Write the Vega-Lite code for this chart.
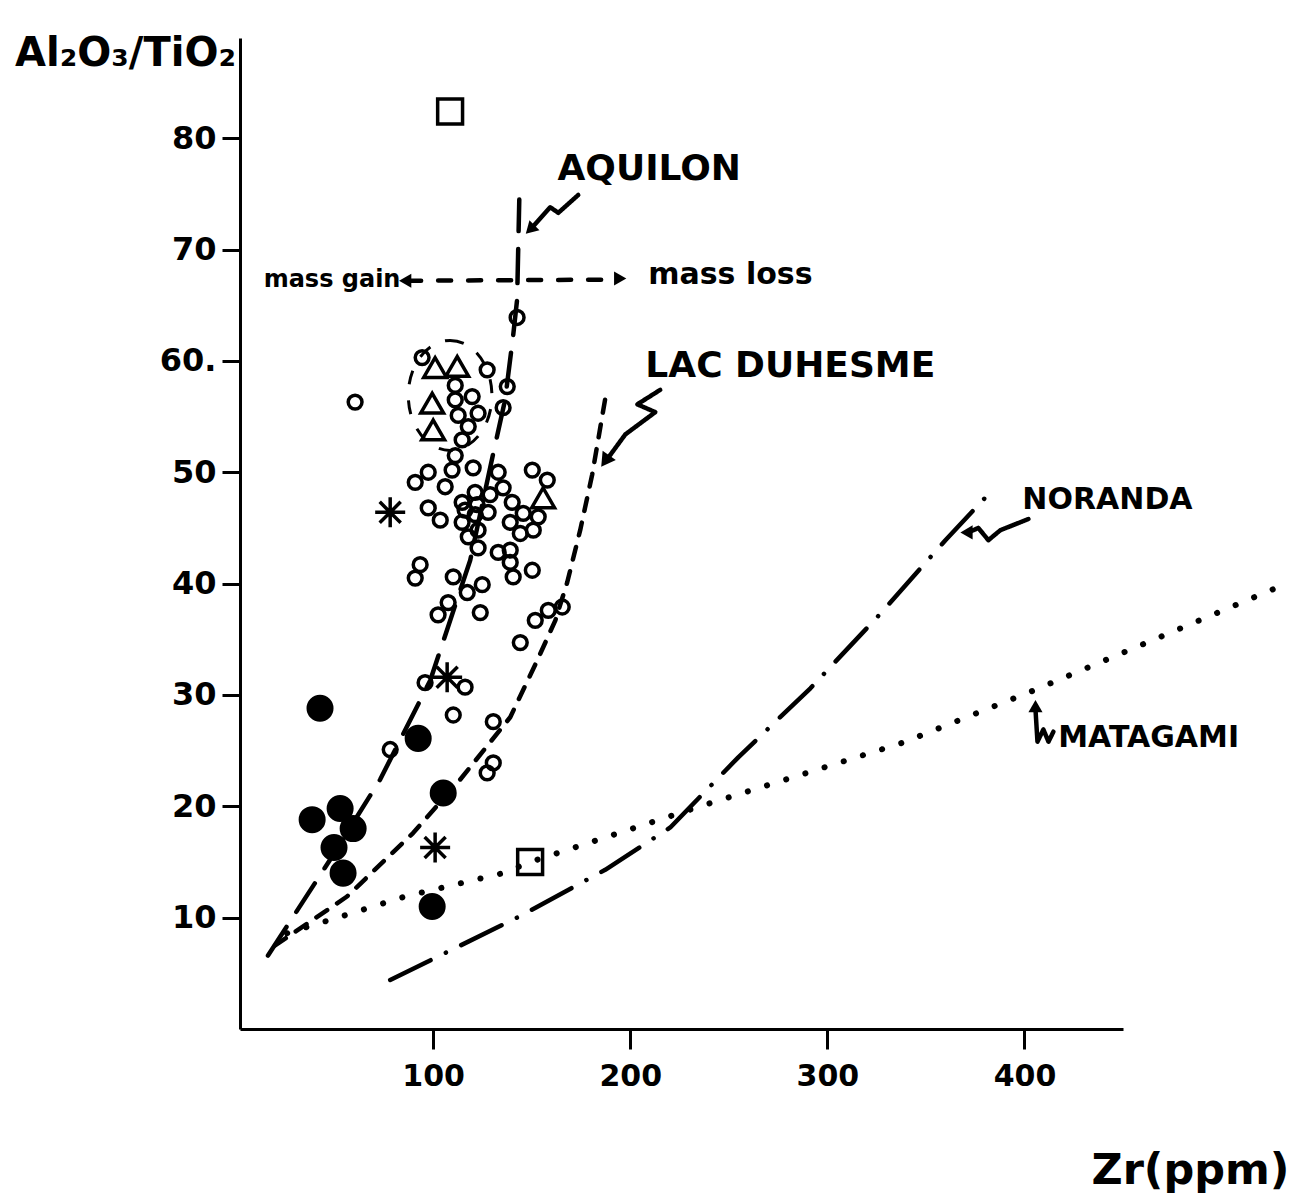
{
  "$schema": "https://vega.github.io/schema/vega-lite/v6.json",
  "width": 883,
  "height": 991,
  "autosize": "none",
  "padding": {"left": 240, "top": 38, "right": 176, "bottom": 169},
  "background": "white",
  "config": {
    "view": {"stroke": null},
    "font": "DejaVu Sans",
    "axis": {"grid": false, "domainColor": "black", "tickColor": "black", "labelColor": "black", "titleColor": "black", "domainWidth": 3, "tickWidth": 3, "labelFontWeight": "bold", "titleFontWeight": "bold"}
  },
  "datasets": {
    "points": [
      {"type": "open", "zr": 60.4, "ratio": 56.3},
      {"type": "open", "zr": 142.6, "ratio": 63.9},
      {"type": "open", "zr": 94.4, "ratio": 60.3},
      {"type": "open", "zr": 127.4, "ratio": 59.2},
      {"type": "open", "zr": 137.6, "ratio": 57.7},
      {"type": "open", "zr": 135.5, "ratio": 55.8},
      {"type": "open", "zr": 111.2, "ratio": 57.8},
      {"type": "open", "zr": 119.8, "ratio": 56.8},
      {"type": "open", "zr": 111.2, "ratio": 56.5},
      {"type": "open", "zr": 122.8, "ratio": 55.3},
      {"type": "open", "zr": 112.7, "ratio": 55.1},
      {"type": "open", "zr": 117.8, "ratio": 54.1},
      {"type": "open", "zr": 114.7, "ratio": 52.9},
      {"type": "open", "zr": 111.2, "ratio": 51.5},
      {"type": "open", "zr": 90.9, "ratio": 49.1},
      {"type": "open", "zr": 97.5, "ratio": 50.0},
      {"type": "open", "zr": 109.6, "ratio": 50.2},
      {"type": "open", "zr": 120.3, "ratio": 50.4},
      {"type": "open", "zr": 133.0, "ratio": 50.0},
      {"type": "open", "zr": 150.3, "ratio": 50.2},
      {"type": "open", "zr": 157.9, "ratio": 49.3},
      {"type": "open", "zr": 106.1, "ratio": 48.7},
      {"type": "open", "zr": 114.7, "ratio": 47.3},
      {"type": "open", "zr": 121.3, "ratio": 48.2},
      {"type": "open", "zr": 128.9, "ratio": 48.0},
      {"type": "open", "zr": 135.5, "ratio": 48.6},
      {"type": "open", "zr": 122.3, "ratio": 47.1},
      {"type": "open", "zr": 116.2, "ratio": 46.6},
      {"type": "open", "zr": 121.3, "ratio": 46.2},
      {"type": "open", "zr": 127.9, "ratio": 46.4},
      {"type": "open", "zr": 140.1, "ratio": 47.3},
      {"type": "open", "zr": 145.7, "ratio": 46.3},
      {"type": "open", "zr": 153.3, "ratio": 46.0},
      {"type": "open", "zr": 114.7, "ratio": 45.5},
      {"type": "open", "zr": 122.8, "ratio": 44.8},
      {"type": "open", "zr": 117.8, "ratio": 44.2},
      {"type": "open", "zr": 122.8, "ratio": 43.2},
      {"type": "open", "zr": 139.1, "ratio": 45.5},
      {"type": "open", "zr": 144.2, "ratio": 44.5},
      {"type": "open", "zr": 150.8, "ratio": 44.8},
      {"type": "open", "zr": 97.5, "ratio": 46.8},
      {"type": "open", "zr": 103.6, "ratio": 45.7},
      {"type": "open", "zr": 133.0, "ratio": 42.8},
      {"type": "open", "zr": 139.1, "ratio": 43.0},
      {"type": "open", "zr": 139.1, "ratio": 41.9},
      {"type": "open", "zr": 140.6, "ratio": 40.6},
      {"type": "open", "zr": 150.3, "ratio": 41.2},
      {"type": "open", "zr": 93.4, "ratio": 41.7},
      {"type": "open", "zr": 90.9, "ratio": 40.5},
      {"type": "open", "zr": 110.2, "ratio": 40.6},
      {"type": "open", "zr": 117.3, "ratio": 39.2},
      {"type": "open", "zr": 124.9, "ratio": 39.9},
      {"type": "open", "zr": 107.6, "ratio": 38.3},
      {"type": "open", "zr": 102.5, "ratio": 37.2},
      {"type": "open", "zr": 123.9, "ratio": 37.4},
      {"type": "open", "zr": 151.8, "ratio": 36.7},
      {"type": "open", "zr": 158.4, "ratio": 37.6},
      {"type": "open", "zr": 165.5, "ratio": 37.9},
      {"type": "open", "zr": 144.2, "ratio": 34.7},
      {"type": "open", "zr": 95.9, "ratio": 31.1},
      {"type": "open", "zr": 116.2, "ratio": 30.7},
      {"type": "open", "zr": 110.2, "ratio": 28.2},
      {"type": "open", "zr": 130.5, "ratio": 27.6},
      {"type": "open", "zr": 78.2, "ratio": 25.1},
      {"type": "open", "zr": 130.5, "ratio": 23.9},
      {"type": "open", "zr": 127.4, "ratio": 23.0},
      {"type": "filled", "zr": 42.6, "ratio": 28.8},
      {"type": "filled", "zr": 92.4, "ratio": 26.1},
      {"type": "filled", "zr": 105.1, "ratio": 21.2},
      {"type": "filled", "zr": 52.8, "ratio": 19.8},
      {"type": "filled", "zr": 38.6, "ratio": 18.8},
      {"type": "filled", "zr": 59.4, "ratio": 18.0},
      {"type": "filled", "zr": 49.7, "ratio": 16.3},
      {"type": "filled", "zr": 54.3, "ratio": 14.0},
      {"type": "filled", "zr": 99.5, "ratio": 11.0},
      {"type": "square", "zr": 108.6, "ratio": 82.4},
      {"type": "square", "zr": 149.2, "ratio": 15.0},
      {"type": "triangle", "zr": 101.0, "ratio": 59.4},
      {"type": "triangle", "zr": 112.2, "ratio": 59.5},
      {"type": "triangle", "zr": 99.5, "ratio": 56.2},
      {"type": "triangle", "zr": 100.0, "ratio": 53.8},
      {"type": "triangle", "zr": 155.8, "ratio": 47.7},
      {"type": "asterisk", "zr": 78.2, "ratio": 46.4},
      {"type": "asterisk", "zr": 107.1, "ratio": 31.6},
      {"type": "asterisk", "zr": 101.0, "ratio": 16.3},
      {"type": "ellipse", "zr": 108.6, "ratio": 56.9}
    ],
    "lines": [
      {"series": "Aquilon", "i": 1, "zr": 16.2, "ratio": 6.6},
      {"series": "Aquilon", "i": 2, "zr": 47.7, "ratio": 15.2},
      {"series": "Aquilon", "i": 3, "zr": 73.1, "ratio": 22.4},
      {"series": "Aquilon", "i": 4, "zr": 98.5, "ratio": 31.3},
      {"series": "Aquilon", "i": 5, "zr": 118.8, "ratio": 42.1},
      {"series": "Aquilon", "i": 6, "zr": 130.5, "ratio": 51.7},
      {"series": "Aquilon", "i": 7, "zr": 136.5, "ratio": 56.5},
      {"series": "Aquilon", "i": 8, "zr": 140.6, "ratio": 62.3},
      {"series": "Aquilon", "i": 9, "zr": 142.6, "ratio": 65.5},
      {"series": "Aquilon", "i": 10, "zr": 143.7, "ratio": 74.5},
      {"series": "LacDuhesme", "i": 1, "zr": 19.8, "ratio": 7.5},
      {"series": "LacDuhesme", "i": 2, "zr": 56.3, "ratio": 11.9},
      {"series": "LacDuhesme", "i": 3, "zr": 89.8, "ratio": 17.6},
      {"series": "LacDuhesme", "i": 4, "zr": 113.7, "ratio": 22.4},
      {"series": "LacDuhesme", "i": 5, "zr": 139.1, "ratio": 28.0},
      {"series": "LacDuhesme", "i": 6, "zr": 152.8, "ratio": 33.1},
      {"series": "LacDuhesme", "i": 7, "zr": 162.0, "ratio": 36.7},
      {"series": "LacDuhesme", "i": 8, "zr": 168.0, "ratio": 40.1},
      {"series": "LacDuhesme", "i": 9, "zr": 174.6, "ratio": 44.8},
      {"series": "LacDuhesme", "i": 10, "zr": 180.7, "ratio": 49.8},
      {"series": "LacDuhesme", "i": 11, "zr": 187.3, "ratio": 56.6},
      {"series": "Noranda", "i": 1, "zr": 78.2, "ratio": 4.4},
      {"series": "Noranda", "i": 2, "zr": 143.7, "ratio": 10.1},
      {"series": "Noranda", "i": 3, "zr": 187.3, "ratio": 14.3},
      {"series": "Noranda", "i": 4, "zr": 220.3, "ratio": 18.1},
      {"series": "Noranda", "i": 5, "zr": 254.8, "ratio": 24.4},
      {"series": "Noranda", "i": 6, "zr": 291.4, "ratio": 30.6},
      {"series": "Noranda", "i": 7, "zr": 326.4, "ratio": 37.2},
      {"series": "Noranda", "i": 8, "zr": 359.9, "ratio": 43.9},
      {"series": "Noranda", "i": 9, "zr": 385.3, "ratio": 48.7},
      {"series": "Matagami", "i": 1, "zr": 25.9, "ratio": 8.6},
      {"series": "Matagami", "i": 2, "zr": 85.8, "ratio": 11.9},
      {"series": "Matagami", "i": 3, "zr": 135.5, "ratio": 14.0},
      {"series": "Matagami", "i": 4, "zr": 149.2, "ratio": 15.0},
      {"series": "Matagami", "i": 5, "zr": 235.5, "ratio": 20.0},
      {"series": "Matagami", "i": 6, "zr": 338.1, "ratio": 25.7},
      {"series": "Matagami", "i": 7, "zr": 404.6, "ratio": 30.4},
      {"series": "Matagami", "i": 8, "zr": 528.9, "ratio": 39.7},
      {"series": "mass", "i": 1, "zr": 87.3, "ratio": 67.2},
      {"series": "mass", "i": 2, "zr": 190.9, "ratio": 67.3},
      {"series": "arrowAQ", "i": 1, "zr": 173.6, "ratio": 74.9},
      {"series": "arrowAQ", "i": 2, "zr": 163.5, "ratio": 73.3},
      {"series": "arrowAQ", "i": 3, "zr": 159.4, "ratio": 73.8},
      {"series": "arrowAQ", "i": 4, "zr": 150.3, "ratio": 72.0},
      {"series": "arrowLD", "i": 1, "zr": 215.2, "ratio": 57.4},
      {"series": "arrowLD", "i": 2, "zr": 203.6, "ratio": 56.1},
      {"series": "arrowLD", "i": 3, "zr": 212.7, "ratio": 55.4},
      {"series": "arrowLD", "i": 4, "zr": 197.5, "ratio": 53.4},
      {"series": "arrowLD", "i": 5, "zr": 188.8, "ratio": 51.3},
      {"series": "arrowNO", "i": 1, "zr": 402.0, "ratio": 45.8},
      {"series": "arrowNO", "i": 2, "zr": 387.8, "ratio": 44.8},
      {"series": "arrowNO", "i": 3, "zr": 381.7, "ratio": 43.9},
      {"series": "arrowNO", "i": 4, "zr": 376.6, "ratio": 45.0},
      {"series": "arrowNO", "i": 5, "zr": 371.6, "ratio": 44.6},
      {"series": "arrowMA", "i": 1, "zr": 405.6, "ratio": 28.7},
      {"series": "arrowMA", "i": 2, "zr": 406.6, "ratio": 25.8},
      {"series": "arrowMA", "i": 3, "zr": 409.6, "ratio": 26.9},
      {"series": "arrowMA", "i": 4, "zr": 412.2, "ratio": 25.8},
      {"series": "arrowMA", "i": 5, "zr": 414.7, "ratio": 26.7}
    ],
    "heads": [
      {"head": "aq", "zr": 149.2, "ratio": 71.8},
      {"head": "ld", "zr": 187.3, "ratio": 51.0},
      {"head": "no", "zr": 370.6, "ratio": 44.6},
      {"head": "ma", "zr": 405.6, "ratio": 29.0},
      {"head": "gain", "zr": 85.8, "ratio": 67.2},
      {"head": "loss", "zr": 194.9, "ratio": 67.4}
    ],
    "labels": [
      {"text": "AQUILON", "group": "big", "zr": 209.6, "ratio": 77.2},
      {"text": "LAC DUHESME", "group": "big", "zr": 281.2, "ratio": 59.5},
      {"text": "NORANDA", "group": "mid", "zr": 442.1, "ratio": 47.5},
      {"text": "MATAGAMI", "group": "mid", "zr": 463.0, "ratio": 26.1},
      {"text": "mass loss", "group": "mid", "zr": 250.8, "ratio": 67.7},
      {"text": "mass gain", "group": "small", "zr": 48.7, "ratio": 67.3}
    ]
  },
  "encoding": {
    "x": {
      "field": "zr", "type": "quantitative",
      "scale": {"domain": [2, 450], "nice": false, "zero": false},
      "axis": {
        "values": [100, 200, 300, 400],
        "title": "Zr(ppm)",
        "tickSize": 20, "labelFontSize": 30, "labelPadding": 12,
        "titleFontSize": 43, "titleX": 950, "titleY": 154,
        "titleAlign": "center", "titleBaseline": "alphabetic"
      }
    },
    "y": {
      "field": "ratio", "type": "quantitative",
      "scale": {"domain": [0, 89], "nice": false},
      "axis": {
        "values": [10, 20, 30, 40, 50, 60, 70, 80],
        "labelExpr": "datum.value == 60 ? '60.' : datum.label",
        "title": "Al₂O₃/TiO₂",
        "titleAngle": 0, "titleX": -115, "titleY": 27,
        "titleAlign": "center", "titleBaseline": "alphabetic",
        "titleFontSize": 40,
        "tickSize": 18, "labelFontSize": 32, "labelPadding": 6
      }
    }
  },
  "layer": [
    {
      "data": {"name": "lines"},
      "transform": [{"filter": "datum.series !== 'Matagami'"}],
      "mark": {"type": "line", "color": "black", "strokeWidth": 4.5, "strokeCap": "round", "strokeJoin": "round"},
      "encoding": {
        "detail": {"field": "series", "type": "nominal"},
        "order": {"field": "i", "type": "quantitative"},
        "strokeDash": {
          "field": "series", "type": "nominal", "legend": null,
          "scale": {
            "domain": ["Aquilon", "LacDuhesme", "Noranda", "mass", "arrowAQ", "arrowLD", "arrowNO", "arrowMA"],
            "range": [[34, 18], [13, 12], [45, 17, 0.1, 17], [13, 17], [1, 0], [1, 0], [1, 0], [1, 0]]
          }
        }
      }
    },
    {
      "data": {"name": "lines"},
      "transform": [{"filter": "datum.series === 'Matagami'"}],
      "mark": {"type": "line", "color": "black", "strokeWidth": 6, "strokeCap": "round", "strokeDash": [0.1, 20]},
      "encoding": {
        "order": {"field": "i", "type": "quantitative"}
      }
    },
    {
      "data": {"name": "points"},
      "transform": [{"filter": "datum.type === 'ellipse'"}],
      "mark": {"type": "point", "shape": "M0,-1A0.76,1,0,1,1,0,1A0.76,1,0,1,1,0,-1Z", "size": 12100, "filled": false, "color": "black", "strokeWidth": 3, "strokeDash": [14, 16], "opacity": 1}
    },
    {
      "data": {"name": "points"},
      "transform": [{"filter": "datum.type === 'open'"}],
      "mark": {"type": "point", "shape": "circle", "size": 190, "filled": false, "color": "black", "strokeWidth": 3.5, "opacity": 1}
    },
    {
      "data": {"name": "points"},
      "transform": [{"filter": "datum.type === 'filled'"}],
      "mark": {"type": "point", "shape": "circle", "size": 730, "filled": true, "color": "black", "opacity": 1}
    },
    {
      "data": {"name": "points"},
      "transform": [{"filter": "datum.type === 'square'"}],
      "mark": {"type": "point", "shape": "square", "size": 620, "filled": false, "color": "black", "strokeWidth": 3.5, "opacity": 1}
    },
    {
      "data": {"name": "points"},
      "transform": [{"filter": "datum.type === 'triangle'"}],
      "mark": {"type": "point", "shape": "triangle-up", "size": 520, "filled": false, "color": "black", "strokeWidth": 3.5, "opacity": 1}
    },
    {
      "data": {"name": "points"},
      "transform": [{"filter": "datum.type === 'asterisk'"}],
      "mark": {"type": "point", "shape": "M0,-1L0,1M-1,0L1,0M-0.7,-0.7L0.7,0.7M-0.7,0.7L0.7,-0.7", "size": 900, "filled": false, "color": "black", "strokeWidth": 3.5, "opacity": 1}
    },
    {
      "data": {"name": "heads"},
      "transform": [{"filter": "datum.head === 'aq'"}],
      "mark": {"type": "point", "shape": "triangle-up", "size": 200, "filled": true, "color": "black", "opacity": 1, "angle": 225}
    },
    {
      "data": {"name": "heads"},
      "transform": [{"filter": "datum.head === 'ld'"}],
      "mark": {"type": "point", "shape": "triangle-up", "size": 260, "filled": true, "color": "black", "opacity": 1, "angle": 215}
    },
    {
      "data": {"name": "heads"},
      "transform": [{"filter": "datum.head === 'no' || datum.head === 'gain'"}],
      "mark": {"type": "point", "shape": "triangle-up", "size": 200, "filled": true, "color": "black", "opacity": 1, "angle": 270}
    },
    {
      "data": {"name": "heads"},
      "transform": [{"filter": "datum.head === 'ma'"}],
      "mark": {"type": "point", "shape": "triangle-up", "size": 200, "filled": true, "color": "black", "opacity": 1, "angle": 0}
    },
    {
      "data": {"name": "heads"},
      "transform": [{"filter": "datum.head === 'loss'"}],
      "mark": {"type": "point", "shape": "triangle-up", "size": 200, "filled": true, "color": "black", "opacity": 1, "angle": 90}
    },
    {
      "data": {"name": "labels"},
      "transform": [{"filter": "datum.group === 'big'"}],
      "mark": {"type": "text", "fontSize": 36, "fontWeight": "bold", "color": "black", "align": "center", "baseline": "middle"},
      "encoding": {"text": {"field": "text", "type": "nominal"}}
    },
    {
      "data": {"name": "labels"},
      "transform": [{"filter": "datum.group === 'mid'"}],
      "mark": {"type": "text", "fontSize": 30, "fontWeight": "bold", "color": "black", "align": "center", "baseline": "middle"},
      "encoding": {"text": {"field": "text", "type": "nominal"}}
    },
    {
      "data": {"name": "labels"},
      "transform": [{"filter": "datum.group === 'small'"}],
      "mark": {"type": "text", "fontSize": 24, "fontWeight": "bold", "color": "black", "align": "center", "baseline": "middle"},
      "encoding": {"text": {"field": "text", "type": "nominal"}}
    }
  ]
}
